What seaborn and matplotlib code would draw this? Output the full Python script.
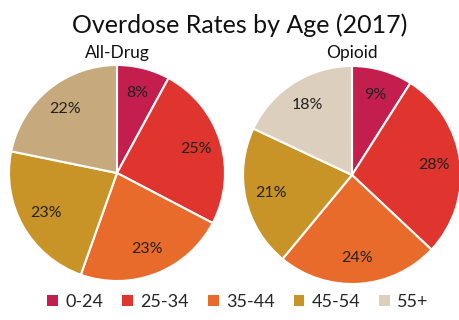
import matplotlib
matplotlib.use("Agg")
import matplotlib.pyplot as plt
import seaborn as sns
import numpy as np
from matplotlib.patches import Patch

sns.set_theme(style="white")
plt.rcParams['font.family'] = ['Lato', 'DejaVu Sans']

age_groups = ["0-24", "25-34", "35-44", "45-54", "55+"]
all_drug = [8, 25, 23, 23, 22]
opioid = [9, 28, 24, 21, 18]
all_drug_labels = ["8%", "25%", "23%", "23%", "22%"]
opioid_labels = ["9%", "28%", "24%", "21%", "18%"]

colors_all = ["#C41E4F", "#E0342E", "#E86B2C", "#C99427", "#C6A97C"]
colors_op = ["#C41E4F", "#E0342E", "#E86B2C", "#C99427", "#DCCFBE"]
legend_colors = ["#C41E4F", "#E0342E", "#E86B2C", "#C99427", "#DCCFBE"]

W, H = 459, 320
fig = plt.figure(figsize=(W / 100, H / 100), dpi=100)

def pie_axes(cx, cy, r):
    return fig.add_axes([(cx - r) / W, (H - cy - r) / H, 2 * r / W, 2 * r / H])

def draw(ax, vals, labels, cols):
    ax.pie(vals, colors=cols, startangle=90, counterclock=False,
           wedgeprops=dict(edgecolor="white", linewidth=1.5))
    total = sum(vals)
    ang = 90.0
    for v, lab in zip(vals, labels):
        mid = ang - v / total * 360 / 2
        ang -= v / total * 360
        x = 0.76 * np.cos(np.deg2rad(mid))
        y = 0.76 * np.sin(np.deg2rad(mid))
        ax.text(x, y, lab, ha="center", va="center", fontsize=11.5, color="#222222")
    ax.set_xlim(-1, 1)
    ax.set_ylim(-1, 1)
    ax.set_aspect("equal")
    ax.axis("off")

ax1 = pie_axes(117, 173, 108)
draw(ax1, all_drug, all_drug_labels, colors_all)
ax2 = pie_axes(352, 175, 109)
draw(ax2, opioid, opioid_labels, colors_op)

fig.text(240 / W, 1 - 25 / H, "Overdose Rates by Age (2017)", ha="center", va="center",
         fontsize=18, color="#111111")
fig.text(117 / W, 1 - 53 / H, "All-Drug", ha="center", va="center", fontsize=12.5, color="#111111")
fig.text(352 / W, 1 - 53 / H, "Opioid", ha="center", va="center", fontsize=12.5, color="#111111")

handles = [Patch(facecolor=c, edgecolor="none") for c in legend_colors]
fig.legend(handles, age_groups, loc="center", bbox_to_anchor=(238 / W, 1 - 302 / H),
           ncol=5, frameon=False, fontsize=13, handlelength=0.6, handleheight=0.6,
           handletextpad=0.4, columnspacing=1.05)

fig.savefig("out.png", dpi=100)
